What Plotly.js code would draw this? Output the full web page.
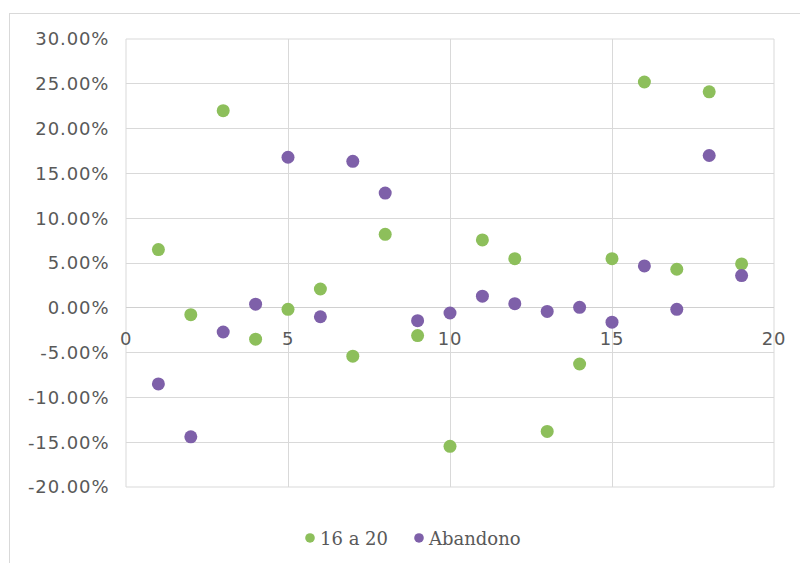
<!DOCTYPE html>
<html>
<head>
<meta charset="utf-8">
<script src="https://cdn.plot.ly/plotly-3.0.1.min.js"></script>
<style>
  html, body { margin: 0; padding: 0; background: #ffffff; overflow: hidden; }
  #frame { position: absolute; left: 9px; top: 13px; width: 1000px; height: 1000px; border: 1px solid #d9d9d9; }
  #chart { position: absolute; left: 0; top: 0; width: 800px; height: 563px; }
  #chart .ytick text { letter-spacing: 0.9px; }
  #chart .xtick text { letter-spacing: 0.8px; }
</style>
</head>
<body>
<div id="frame"></div>
<div id="chart"></div>
<script>
const xValues = [1, 2, 3, 4, 5, 6, 7, 8, 9, 10, 11, 12, 13, 14, 15, 16, 17, 18, 19];
const series1Name = "16 a 20";
const series1 = [0.065, -0.0077, 0.220, -0.035, -0.0017, 0.021, -0.054, 0.082, -0.031, -0.1546, 0.0757, 0.0548, -0.138, -0.0627, 0.0548, 0.252, 0.043, 0.241, 0.049];
const series2Name = "Abandono";
const series2 = [-0.085, -0.144, -0.027, 0.004, 0.168, -0.010, 0.1635, 0.128, -0.0144, -0.0058, 0.013, 0.0046, -0.004, 0.0005, -0.016, 0.0467, -0.0017, 0.170, 0.036];

const yTickVals = [-0.20, -0.15, -0.10, -0.05, 0, 0.05, 0.10, 0.15, 0.20, 0.25, 0.30];
const yTickText = ["-20.00%", "-15.00%", "-10.00%", "-5.00%", "0.00%", "5.00%", "10.00%", "15.00%", "20.00%", "25.00%", "30.00%"];
const xTickVals = [0, 5, 10, 15, 20];
const xTickText = ["0", "5", "10", "15", "20"];

const green = "#8dbf5b";
const purple = "#7e60a9";
const gridColor = "#d9d9d9";
const textColor = "#595959";

const traces = [
  { x: xValues, y: series1, name: series1Name, type: "scatter", mode: "markers",
    marker: { color: green, size: 13 } },
  { x: xValues, y: series2, name: series2Name, type: "scatter", mode: "markers",
    marker: { color: purple, size: 13 } }
];

const layout = {
  width: 800, height: 563,
  margin: { l: 126, r: 26, t: 39, b: 76, autoexpand: false },
  paper_bgcolor: "rgba(0,0,0,0)",
  plot_bgcolor: "#ffffff",
  showlegend: true,
  legend: {
    orientation: "h", x: 0.5, xanchor: "center", y: -0.11, yanchor: "middle",
    font: { family: "DejaVu Serif", size: 18, color: textColor },
    itemsizing: "constant", itemwidth: 30
  },
  xaxis: {
    range: [0, 20], tickmode: "array", tickvals: xTickVals, ticktext: xTickText,
    anchor: "free", position: 0.4,
    showgrid: true, gridcolor: gridColor, gridwidth: 1,
    zeroline: false, showline: false,
    ticks: "outside", ticklen: 15, tickcolor: "rgba(0,0,0,0)",
    tickfont: { family: "DejaVu Sans", size: 18, color: textColor }
  },
  yaxis: {
    range: [-0.2, 0.3], tickmode: "array", tickvals: yTickVals, ticktext: yTickText,
    showgrid: true, gridcolor: gridColor, gridwidth: 1,
    zeroline: true, zerolinecolor: "#d0d0d0", zerolinewidth: 1,
    showline: false,
    ticks: "outside", ticklen: 12, tickcolor: "rgba(0,0,0,0)",
    tickfont: { family: "DejaVu Sans", size: 18, color: textColor }
  },
  shapes: [
    { type: "rect", xref: "paper", yref: "paper", x0: 0, x1: 1, y0: 0, y1: 1,
      line: { color: gridColor, width: 1 }, layer: "below" }
  ]
};

const gd = document.getElementById("chart");
Plotly.newPlot(gd, traces, layout, { displayModeBar: false, staticPlot: true }).then(function () {
  const legend = gd.querySelector(".legend");
  if (!legend) return;
  // let items sit anywhere without being clipped by the legend box
  legend.removeAttribute("clip-path");
  legend.querySelectorAll("[clip-path]").forEach(function (el) { el.removeAttribute("clip-path"); });
  // tighten legend: text closer to marker, items placed like the reference
  const targets = [310, 419];
  const items = legend.querySelectorAll(".traces");
  items.forEach(function (g, i) {
    const txt = g.querySelector(".legendtext");
    if (txt) txt.setAttribute("x", 30);
    const pt = g.querySelector(".legendpoints path");
    if (pt) {
      const base = pt.getAttribute("transform") || "";
      pt.setAttribute("transform", base + " scale(0.8)");
    }
    const m = /translate\(\s*([-\d.]+)[ ,]+([-\d.]+)\s*\)/.exec(g.getAttribute("transform") || "");
    if (pt && m && targets[i] !== undefined) {
      const r = pt.getBoundingClientRect();
      const cx = r.left + r.width / 2;
      const tx = parseFloat(m[1]) + (targets[i] - cx);
      g.setAttribute("transform", "translate(" + tx + "," + (parseFloat(m[2]) + 2) + ")");
    }
  });
});
</script>
</body>
</html>
